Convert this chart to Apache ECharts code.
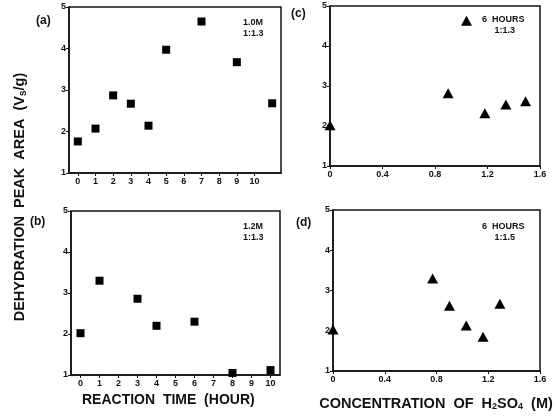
<!DOCTYPE html>
<html><head><meta charset="utf-8">
<script src="https://cdn.jsdelivr.net/npm/echarts@6/dist/echarts.min.js"></script>
<style>html,body{margin:0;padding:0;background:#fff}#c{width:556px;height:416px}</style>
</head><body><div id="c"></div>
<script>
// Panel (a): 1.0M, 1:1.3
const aX = [0, 1, 2, 3, 4, 5, 7, 9, 11];
const aY = [1.76, 2.07, 2.87, 2.67, 2.14, 3.97, 4.65, 3.67, 2.68];
// Panel (b): 1.2M, 1:1.3
const bX = [0, 1, 3, 4, 6, 8, 10];
const bY = [2.02, 3.3, 2.86, 2.2, 2.3, 1.05, 1.12];
// Panel (c): 6 hours, 1:1.3
const cX = [0, 0.9, 1.04, 1.18, 1.34, 1.49];
const cY = [2.02, 2.82, 4.63, 2.32, 2.54, 2.62];
// Panel (d): 6 hours, 1:1.5
const dX = [0, 0.77, 0.9, 1.03, 1.16, 1.29];
const dY = [2.03, 3.3, 2.62, 2.13, 1.85, 2.67];
const timeTicks = [0,1,2,3,4,5,6,7,8,9,10];
const concTicks = [0, 0.4, 0.8, 1.2, 1.6];
const yTicks = [1,2,3,4,5];

const F = '"Liberation Sans", Arial, sans-serif';
const pair = (xs, ys) => xs.map((x, i) => [x, ys[i]]);
const lbl = {fontFamily: F, fontSize: 9, fontWeight: 'bold', color: '#111'};

const grids = [
  {left: 69, top: 7, right: 275, height: 166},
  {left: 71, top: 211, right: 276, height: 164},
  {left: 330, top: 6, right: 16, height: 160},
  {left: 333, top: 210, right: 16, height: 161}
].map(g => Object.assign(g, {show: true, borderColor: '#111', borderWidth: 1.5, backgroundColor: 'transparent'}));

function timeAxis(i, max) {
  return {type: 'value', gridIndex: i, min: -0.5, max: max,
    axisLine: {show: true, onZero: false, lineStyle: {color: '#111', width: 1.5}},
    axisTick: {show: true, customValues: timeTicks, length: 3, lineStyle: {color: '#111'}},
    axisLabel: Object.assign({customValues: timeTicks, margin: 4}, lbl),
    splitLine: {show: false}};
}
function concAxis(i) {
  return {type: 'value', gridIndex: i, min: 0, max: 1.6, interval: 0.4,
    axisLine: {show: true, onZero: false, lineStyle: {color: '#111', width: 1.5}},
    axisTick: {show: true, length: 3, lineStyle: {color: '#111'}},
    axisLabel: Object.assign({margin: 4, formatter: v => v === 0 ? '0' : (+v).toFixed(1)}, lbl),
    splitLine: {show: false}};
}
function yAxis(i) {
  return {type: 'value', gridIndex: i, min: 1, max: 5, interval: 1,
    axisLine: {show: true, onZero: false, lineStyle: {color: '#111', width: 1.5}},
    axisTick: {show: true, length: 3, lineStyle: {color: '#111'}},
    axisLabel: Object.assign({margin: 3}, lbl),
    splitLine: {show: false}};
}

const sq = {type: 'scatter', symbol: 'rect', symbolSize: 8, itemStyle: {color: '#000', opacity: 1}, clip: false};
const tri = {type: 'scatter', symbol: 'triangle', symbolSize: [11, 10], itemStyle: {color: '#000', opacity: 1}, clip: false};

const txt = (left, top, text, size, weight, align) => ({type: 'text', left, top,
  style: {text, font: (weight || 'bold') + ' ' + size + 'px ' + F, fill: '#111', textAlign: align || 'left'}});

const option = {
  animation: false,
  grid: grids,
  xAxis: [timeAxis(0, 11.5), timeAxis(1, 10.5), concAxis(2), concAxis(3)],
  yAxis: [yAxis(0), yAxis(1), yAxis(2), yAxis(3)],
  series: [
    Object.assign({xAxisIndex: 0, yAxisIndex: 0, data: pair(aX, aY)}, sq),
    Object.assign({xAxisIndex: 1, yAxisIndex: 1, data: pair(bX, bY)}, sq),
    Object.assign({xAxisIndex: 2, yAxisIndex: 2, data: pair(cX, cY)}, tri),
    Object.assign({xAxisIndex: 3, yAxisIndex: 3, data: pair(dX, dY)}, tri)
  ],
  graphic: [
    txt(36, 15, '(a)', 12),
    txt(30, 216, '(b)', 12),
    txt(291, 8, '(c)', 12),
    txt(296, 217, '(d)', 12),
    {type: 'text', left: 243, top: 17, style: {text: '1.0M\n1:1.3', font: 'bold 9px ' + F, fill: '#111', lineHeight: 11}},
    {type: 'text', left: 243, top: 221, style: {text: '1.2M\n1:1.3', font: 'bold 9px ' + F, fill: '#111', lineHeight: 11}},
    {type: 'text', left: 482, top: 14, style: {text: '6  HOURS\n     1:1.3', font: 'bold 9px ' + F, fill: '#111', lineHeight: 11}},
    {type: 'text', left: 482, top: 221, style: {text: '6  HOURS\n     1:1.5', font: 'bold 9px ' + F, fill: '#111', lineHeight: 11}},
    {type: 'text', x: 20, y: 197, rotation: Math.PI / 2,
      style: {text: '{t|DEHYDRATION  PEAK  AREA  (V}{s|s}{t|/g)}', textAlign: 'center', textVerticalAlign: 'middle',
        rich: {t: {font: 'bold 14.5px ' + F, fill: '#111'}, s: {font: 'bold 10px ' + F, fill: '#111', padding: [6, 0, 0, 0]}}}},
    {type: 'text', left: 82, top: 393, style: {text: 'REACTION  TIME  (HOUR)', font: 'bold 14px ' + F, fill: '#111'}},
    {type: 'text', x: 436, y: 404,
      style: {text: '{t|CONCENTRATION  OF  H}{s|2}{t|SO}{s|4}{t|  (M)}', textAlign: 'center', textVerticalAlign: 'middle',
        rich: {t: {font: 'bold 14.5px ' + F, fill: '#111'}, s: {font: 'bold 9px ' + F, fill: '#111', padding: [5, 0, 0, 0]}}}}
  ]
};
echarts.init(document.getElementById('c'), null, {renderer: 'canvas'}).setOption(option);
</script></body></html>
